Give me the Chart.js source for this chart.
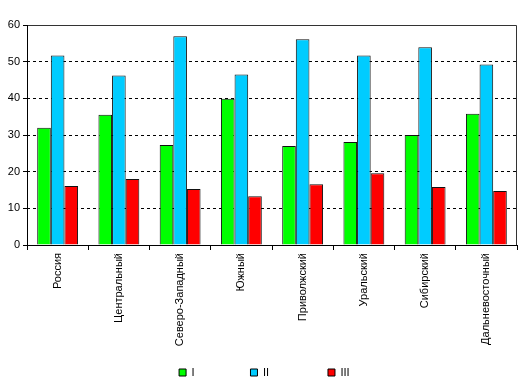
<!DOCTYPE html>
<html>
<head>
<meta charset="utf-8">
<script src="https://cdn.jsdelivr.net/npm/chart.js@4"></script>
<style>
  body { margin: 0; background: #fff; }
  #wrap { width: 522px; height: 390px; }
</style>
</head>
<body>
<div id="wrap"><canvas id="chart"></canvas></div>
<script>
// регионы и значения по группам
const regions = ['Россия', 'Центральный', 'Северо-Западный', 'Южный', 'Приволжский', 'Уральский', 'Сибирский', 'Дальневосточный'];
const groupI = [32.0, 35.5, 27.3, 39.9, 27.0, 28.1, 30.0, 35.8];
const groupII = [51.7, 46.2, 56.9, 46.5, 56.1, 51.7, 53.9, 49.2];
const groupIII = [16.1, 18.0, 15.3, 13.3, 16.6, 19.6, 15.8, 14.7];
const seriesNames = ['I', 'II', 'III'];
const yTicks = [0, 10, 20, 30, 40, 50, 60];

const font = { family: '"Liberation Sans", Arial, sans-serif', size: 11 };

// рамка области построения
const frame = {
  id: 'frame',
  afterDraw(chart) {
    const { ctx, chartArea: a } = chart;
    ctx.save();
    ctx.lineWidth = 1;
    ctx.strokeStyle = '#333';
    ctx.beginPath();
    ctx.moveTo(a.left, a.top + 0.5);
    ctx.lineTo(a.right - 0.5, a.top + 0.5);
    ctx.lineTo(a.right - 0.5, a.bottom);
    ctx.stroke();
    ctx.strokeStyle = '#000';
    ctx.beginPath();
    ctx.moveTo(a.left + 0.5, a.top);
    ctx.lineTo(a.left + 0.5, a.bottom);
    ctx.stroke();
    ctx.restore();
  }
};

// пробелы после подписи раздвигают элементы легенды
const pad = (s, n) => s + ' '.repeat(n);
const legendPad = [15, 16, 5];

const ds = (label, data, color) => ({
  label, data,
  backgroundColor: color,
  borderColor: '#111',
  borderWidth: 1,
  borderSkipped: 'bottom',
  barPercentage: 1,
  categoryPercentage: 0.667
});

new Chart(document.getElementById('chart'), {
  type: 'bar',
  data: {
    labels: regions,
    datasets: [
      ds(seriesNames[0], groupI, '#00ff00'),
      ds(seriesNames[1], groupII, '#00ccff'),
      ds(seriesNames[2], groupIII, '#ff0000')
    ]
  },
  options: {
    responsive: true,
    maintainAspectRatio: false,
    animation: false,
    layout: { padding: { top: 25, right: 5, left: 0, bottom: 2 } },
    plugins: {
      tooltip: { enabled: false },
      legend: {
        position: 'bottom',
        fullSize: false,
        labels: {
          boxWidth: 7,
          boxHeight: 7,
          padding: 10,
          color: '#000',
          font,
          generateLabels: chart => Chart.defaults.plugins.legend.labels.generateLabels(chart)
            .map((item, i) => ({ ...item, text: pad(item.text, legendPad[i]), lineWidth: 1, strokeStyle: '#000' }))
        }
      }
    },
    scales: {
      x: {
        afterFit: s => { s.height = 112; },
        grid: {
          offset: true,
          drawOnChartArea: false,
          tickLength: 5,
          tickColor: '#000'
        },
        border: { color: '#000' },
        ticks: {
          color: '#000',
          font,
          padding: 3,
          minRotation: 90,
          maxRotation: 90,
          autoSkip: false
        }
      },
      y: {
        min: 0,
        max: 60,
        afterFit: s => { s.width = 27; },
        afterBuildTicks: s => { s.ticks = yTicks.map(v => ({ value: v })); },
        grid: {
          color: c => (c.tick && (c.tick.value === 0 || c.tick.value === 60)) ? 'rgba(0,0,0,0)' : '#000',
          tickColor: '#000',
          tickLength: 4,
          tickBorderDash: []
        },
        border: { display: false, dash: [3, 3] },
        ticks: { color: '#000', font, padding: 3 }
      }
    }
  },
  plugins: [frame]
});
</script>
</body>
</html>
